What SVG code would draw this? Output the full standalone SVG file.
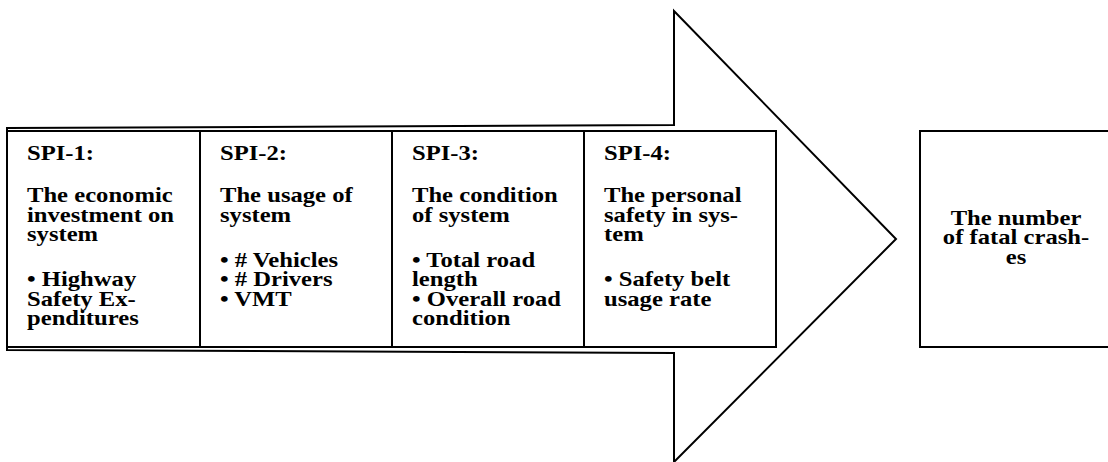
<svg xmlns="http://www.w3.org/2000/svg" width="1108" height="462" viewBox="0 0 1108 462">
<style>
.ln{fill:#fff;stroke:#000;stroke-width:2}
.t{font-family:"Liberation Serif","Times New Roman",serif;font-weight:bold;font-size:22px;fill:#000}
.c{text-anchor:middle}
</style>
<rect width="1108" height="462" fill="#fff"/>
<g id="arrow">
<path class="ln" d="M7,128 L674,125 L674,11 L896,239 L674,462 L674,353 L7,350 Z"/>
</g>
<g id="spi1">
<rect class="ln" x="7" y="131" width="193" height="216"/>
<g class="t" transform="translate(27 0) scale(1.12 1)">
<text y="160">SPI-1:</text>
<text y="202.5">The economic</text>
<text y="222">investment on</text>
<text y="241.5">system</text>
<text y="286.5">• Highway</text>
<text y="306">Safety Ex-</text>
<text y="325.5">penditures</text>
</g>
</g>
<g id="spi2">
<rect class="ln" x="200" y="131" width="192" height="216"/>
<g class="t" transform="translate(220 0) scale(1.12 1)">
<text y="160">SPI-2:</text>
<text y="202.5">The usage of</text>
<text y="222">system</text>
<text y="267">• # Vehicles</text>
<text y="286.5">• # Drivers</text>
<text y="306">• VMT</text>
</g>
</g>
<g id="spi3">
<rect class="ln" x="392" y="131" width="192" height="216"/>
<g class="t" transform="translate(412 0) scale(1.12 1)">
<text y="160">SPI-3:</text>
<text y="202.5">The condition</text>
<text y="222">of system</text>
<text y="267">• Total road</text>
<text y="286.5">length</text>
<text y="306">• Overall road</text>
<text y="325.5">condition</text>
</g>
</g>
<g id="spi4">
<rect class="ln" x="584" y="131" width="192" height="216"/>
<g class="t" transform="translate(604 0) scale(1.12 1)">
<text y="160">SPI-4:</text>
<text y="202.5">The personal</text>
<text y="222">safety in sys-</text>
<text y="241.5">tem</text>
<text y="286.5">• Safety belt</text>
<text y="306">usage rate</text>
</g>
</g>
<g id="outcome">
<rect class="ln" x="920" y="131" width="200" height="216"/>
<g class="t c" transform="translate(1016 0) scale(1.12 1)">
<text y="225">The number</text>
<text y="244.5">of fatal crash-</text>
<text y="264">es</text>
</g>
</g>
</svg>
